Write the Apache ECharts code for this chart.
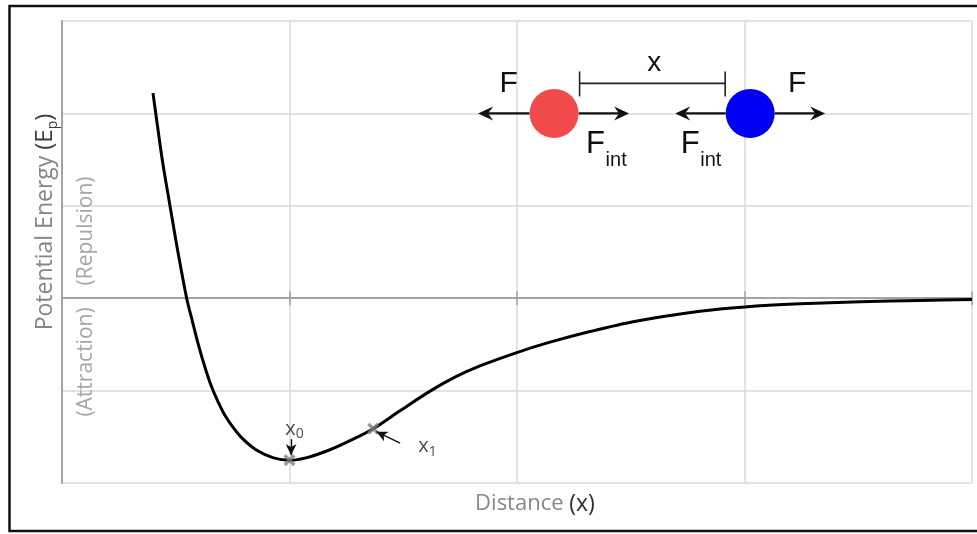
<!DOCTYPE html>
<html>
<head>
<meta charset="utf-8">
<script src="https://cdn.jsdelivr.net/npm/echarts@6/dist/echarts.min.js"></script>
<style>
  html, body { margin: 0; padding: 0; background: #fff; }
  #chart { width: 977px; height: 534px; }
</style>
</head>
<body>
<div id="chart"></div>
<script>
// Potential energy E_p as a function of separation distance x (arbitrary units)
const distance = [0.400, 0.412, 0.441, 0.475, 0.509, 0.548, 0.574, 0.599, 0.629, 0.658, 0.686, 0.716,
                  0.752, 0.796, 0.856, 0.930, 1.000, 1.077, 1.178, 1.266, 1.368, 1.486, 1.618, 1.727,
                  1.837, 1.996, 2.145, 2.321, 2.510, 2.804, 3.002, 3.244, 3.508, 3.771, 4.000];
const energy   = [2.219, 2.002, 1.494, 0.996, 0.509, 0.000, -0.258, -0.499, -0.752, -0.962, -1.122, -1.266,
                  -1.398, -1.526, -1.646, -1.728, -1.753, -1.725, -1.640, -1.542, -1.412, -1.218, -1.006, -0.855,
                  -0.733, -0.591, -0.476, -0.361, -0.254, -0.141, -0.094, -0.061, -0.038, -0.024, -0.015];

// Marked positions: equilibrium x0 and a displaced position x1
const markNames = ['0', '1'];
const markX = [1.000, 1.368];
const markY = [-1.753, -1.412];

// Axis ranges (no tick labels are drawn)
const xRange = [0, 4];
const yRange = [-2, 3];

const curve = distance.map((d, i) => [d, energy[i]]);
const marks = markX.map((d, i) => [d, markY[i]]);

const gridColor = '#dadada';
const axisColor = '#a3a3a3';
const crossPath = 'path://M0,2 L2,0 L5,3 L8,0 L10,2 L7,5 L10,8 L8,10 L5,7 L2,10 L0,8 L3,5 Z';

const chart = echarts.init(document.getElementById('chart'), null, { renderer: 'canvas' });

const xAxisBase = {
  type: 'value', min: xRange[0], max: xRange[1], interval: 1,
  position: 'bottom',
  axisLabel: { show: false },
  axisLine: { show: true, onZero: true, onZeroAxisIndex: 0, lineStyle: { color: axisColor, width: 2 } }
};

chart.setOption({
  animation: false,
  backgroundColor: '#ffffff',
  grid: { left: 62, right: 5, top: 21, bottom: 51, containLabel: false },
  xAxis: [
    Object.assign({}, xAxisBase, {
      axisTick: { show: true, inside: true, length: 7, lineStyle: { color: axisColor, width: 1.5 } },
      splitLine: { show: true, lineStyle: { color: gridColor, width: 1.5 } }
    }),
    Object.assign({}, xAxisBase, {
      axisTick: { show: true, inside: false, length: 7, lineStyle: { color: axisColor, width: 1.5 } },
      splitLine: { show: false }
    })
  ],
  yAxis: {
    type: 'value', min: yRange[0], max: yRange[1], interval: 1,
    axisLabel: { show: false },
    axisTick: { show: false },
    axisLine: { show: true, lineStyle: { color: axisColor, width: 2 } },
    splitLine: { show: true, lineStyle: { color: gridColor, width: 1.5 } }
  },
  series: [
    {
      type: 'line',
      data: curve,
      smooth: 0.3,
      showSymbol: false,
      lineStyle: { color: '#000', width: 3 },
      z: 3
    },
    {
      type: 'scatter',
      data: marks.map((p, i) => ({
        value: p,
        label: i === 0
          ? { show: true, position: 'top', distance: 13, offset: [5, 0] }
          : { show: true, position: 'right', distance: 39, offset: [0, 18] }
      })),
      symbol: crossPath,
      symbolSize: 12,
      itemStyle: { color: '#808080' },
      label: {
        formatter: (p) => '{v|x}{s|' + markNames[p.dataIndex] + '}',
        rich: {
          v: { fontFamily: 'Open Sans', fontSize: 20, color: '#1a1a1a', lineHeight: 24, verticalAlign: 'middle' },
          s: { fontFamily: 'Open Sans', fontSize: 14, color: '#1a1a1a', lineHeight: 14, verticalAlign: 'bottom' }
        }
      },
      markLine: {
        silent: true,
        symbol: ['none', 'arrow'],
        symbolSize: [8, 11],
        label: { show: false },
        lineStyle: { color: '#111', width: 1.4, type: 'solid' },
        data: [
          [{ coord: [1.007, -1.526] }, { coord: [1.007, -1.70] }],
          [{ coord: [1.486, -1.569] }, { coord: [1.382, -1.445] }]
        ]
      },
      z: 4
    }
  ]
});

// Pixel helpers anchored to the data grid
const px = (p) => chart.convertToPixel({ gridIndex: 0 }, p);

// Horizontal arrow from xStart to xEnd at height y, head at xEnd
function arrow(xStart, xEnd, y) {
  const dir = xEnd > xStart ? 1 : -1;
  const head = 15, half = 7, notch = 10;
  return [
    { type: 'line', shape: { x1: xStart, y1: y, x2: xEnd - dir * notch, y2: y },
      style: { stroke: '#111', lineWidth: 2.2 }, z: 100 },
    { type: 'polygon',
      shape: { points: [[xEnd, y], [xEnd - dir * head, y - half], [xEnd - dir * notch, y], [xEnd - dir * head, y + half]] },
      style: { fill: '#111' }, z: 100 }
  ];
}

const red = px([2.163, 2.0]);
const blue = px([3.025, 2.0]);
const r = 24.5;
const cy = red[1];
const diagramFont = 'Liberation Sans';

const graphics = [
  // outer frame
  { type: 'rect', shape: { x: 9.5, y: 6, width: 1000, height: 525 },
    style: { fill: 'none', stroke: '#111', lineWidth: 2.5 }, z: 200, silent: true },

  // axis titles
  { type: 'text', x: 45, y: 222, rotation: Math.PI / 2,
    style: {
      text: '{a|Potential Energy }{b|(E}{s|p}{b|)}',
      align: 'center', verticalAlign: 'middle',
      rich: {
        a: { fontFamily: 'Open Sans', fontSize: 23, fill: '#858585', lineHeight: 30, verticalAlign: 'middle' },
        b: { fontFamily: 'Open Sans', fontSize: 24, fill: '#3c3c3c', lineHeight: 30, verticalAlign: 'middle' },
        s: { fontFamily: 'Open Sans', fontSize: 14, fill: '#3c3c3c', lineHeight: 14, verticalAlign: 'bottom' }
      }
    }, z: 50 },
  { type: 'text', x: 86, y: 231, rotation: Math.PI / 2,
    style: { text: '(Repulsion)', fontFamily: 'Open Sans', fontSize: 21, fill: '#a6a6a6',
             align: 'center', verticalAlign: 'middle' }, z: 50 },
  { type: 'text', x: 86, y: 362, rotation: Math.PI / 2,
    style: { text: '(Attraction)', fontFamily: 'Open Sans', fontSize: 21, fill: '#a6a6a6',
             align: 'center', verticalAlign: 'middle' }, z: 50 },
  { type: 'text', x: 535, y: 504,
    style: {
      text: '{a|Distance }{b|(x)}',
      align: 'center', verticalAlign: 'middle',
      rich: {
        a: { fontFamily: 'Open Sans', fontSize: 22, fill: '#878787' },
        b: { fontFamily: 'Open Sans', fontSize: 23, fill: '#2e2e2e' }
      }
    }, z: 50 },

  // particles
  { type: 'circle', shape: { cx: red[0], cy: cy, r: r }, style: { fill: '#f24a4a' }, z: 101 },
  { type: 'circle', shape: { cx: blue[0], cy: cy, r: r }, style: { fill: '#0000f2' }, z: 101 },

  // separation bracket
  { type: 'line', shape: { x1: red[0] + 25.5, y1: cy - 30, x2: blue[0] - 25, y2: cy - 30 },
    style: { stroke: '#222', lineWidth: 1.6 }, z: 100 },
  { type: 'line', shape: { x1: red[0] + 25.5, y1: cy - 42, x2: red[0] + 25.5, y2: cy - 17 },
    style: { stroke: '#222', lineWidth: 1.6 }, z: 100 },
  { type: 'line', shape: { x1: blue[0] - 25, y1: cy - 42, x2: blue[0] - 25, y2: cy - 17 },
    style: { stroke: '#222', lineWidth: 1.6 }, z: 100 },
  { type: 'text', x: (red[0] + blue[0]) / 2 + 2, y: cy - 50,
    style: { text: 'x', fontFamily: diagramFont, fontSize: 28, fill: '#111', align: 'center', verticalAlign: 'middle' }, z: 100 },

  // force labels
  { type: 'text', x: red[0] - 45.5, y: cy - 30,
    style: { text: 'F', fontFamily: diagramFont, fontSize: 30, fill: '#111', align: 'center', verticalAlign: 'middle' }, z: 100 },
  { type: 'text', x: blue[0] + 47, y: cy - 30,
    style: { text: 'F', fontFamily: diagramFont, fontSize: 30, fill: '#111', align: 'center', verticalAlign: 'middle' }, z: 100 },
  { type: 'text', x: red[0] + 41.5, y: cy + 31,
    style: { text: 'F', fontFamily: diagramFont, fontSize: 31, fill: '#111', align: 'center', verticalAlign: 'middle' }, z: 100 },
  { type: 'text', x: red[0] + 51.5, y: cy + 47,
    style: { text: 'int', fontFamily: diagramFont, fontSize: 20, fill: '#111', align: 'left', verticalAlign: 'middle' }, z: 100 },
  { type: 'text', x: blue[0] - 60, y: cy + 31,
    style: { text: 'F', fontFamily: diagramFont, fontSize: 31, fill: '#111', align: 'center', verticalAlign: 'middle' }, z: 100 },
  { type: 'text', x: blue[0] - 50, y: cy + 47,
    style: { text: 'int', fontFamily: diagramFont, fontSize: 20, fill: '#111', align: 'left', verticalAlign: 'middle' }, z: 100 }
]
  .concat(arrow(red[0] - r, red[0] - 76, cy))
  .concat(arrow(red[0] + r, red[0] + 75, cy))
  .concat(arrow(blue[0] - r, blue[0] - 75, cy))
  .concat(arrow(blue[0] + r, blue[0] + 75, cy));

chart.setOption({ graphic: graphics });
</script>
</body>
</html>
